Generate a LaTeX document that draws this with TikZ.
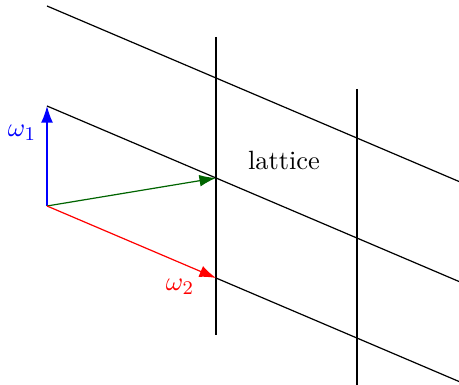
\documentclass[tikz,border=0pt]{standalone}
\usetikzlibrary{arrows.meta}
\definecolor{vecgreen}{RGB}{0,100,0}
\tikzset{
  gridline/.style={draw=black, line width=0.5pt},
  vec/.style={-{Latex[length=2.4mm,width=1.7mm]}, line width=0.5pt},
  veclbl/.style={font=\fontsize{10.9}{13}\selectfont}
}

\begin{document}
\begin{tikzpicture}[x=1.45cm, y=1.45cm]
\useasboundingbox (-0.47,-1.79) rectangle (4.12,2.06);
\coordinate (O) at (0,0);
\coordinate (w1) at (0,1);
\coordinate (w2) at (1.69,-0.72);
\coordinate (w12) at (1.69,0.28);
\coordinate (top0) at (0,2);
\coordinate (top1) at (4.12,0.245);
\coordinate (mid1) at (4.12,-0.755);
\coordinate (bot1) at (4.12,-1.755);
\coordinate (va0) at (1.69,1.69);
\coordinate (va1) at (1.69,-1.29);
\coordinate (vb0) at (3.10,1.17);
\coordinate (vb1) at (3.10,-1.79);
\draw[gridline] (top0) -- (top1);
\draw[gridline] (w1) -- (mid1);
\draw[gridline] (w2) -- (bot1);
\draw[gridline] (va0) -- (va1);
\draw[gridline] (vb0) -- (vb1);
\draw[vec, blue] (O) -- (w1);
\draw[vec, vecgreen] (O) -- (w12);
\draw[vec, red] (O) -- (w2);
\node[veclbl, text=blue] (lw1) at (-0.25,0.73) {$\omega_1$};
\node[veclbl, text=red] (lw2) at (1.33,-0.81) {$\omega_2$};
\node[veclbl] (lat) at (2.37,0.46) {lattice};
\end{tikzpicture}
\end{document}
